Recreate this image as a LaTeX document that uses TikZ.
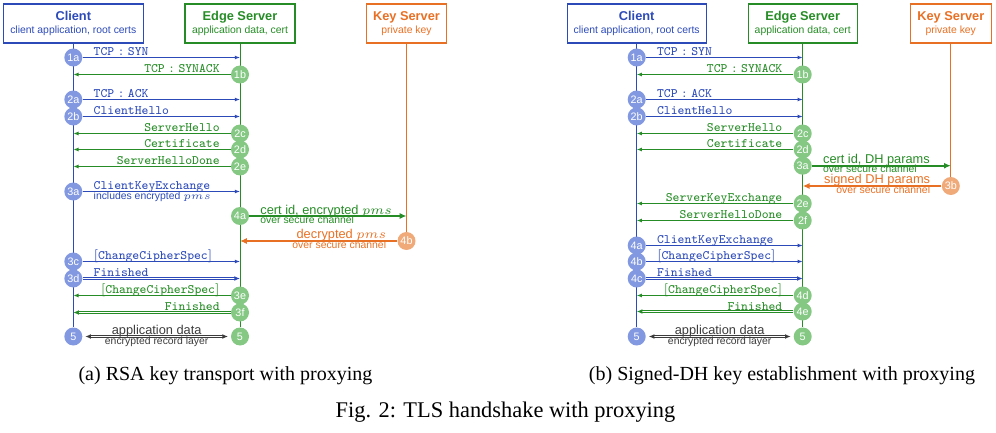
\RequirePackage{fix-cm}
\documentclass[tikz,border=0pt]{standalone}
\usepackage{fontspec}
\setsansfont{Liberation Sans}
\newfontfamily\capfont{Liberation Serif}
\usetikzlibrary{arrows.meta,backgrounds}
\definecolor{cblue}{RGB}{44,74,184}
\definecolor{cbluel}{RGB}{130,152,224}
\definecolor{cgreen}{RGB}{38,140,38}
\definecolor{cgreenl}{RGB}{132,200,132}
\definecolor{corange}{RGB}{232,112,36}
\definecolor{corangel}{RGB}{240,170,122}
\definecolor{cgray}{RGB}{60,60,60}
\newcommand\titlef{\fontsize{6.4}{6.8}\selectfont\bfseries}
\newcommand\tcpmsg[1]{TCP${}:{}$#1}
\tikzset{
  box/.style={draw=#1, line width=0.6pt, minimum height=19.5pt, inner sep=0pt, align=center,
    text=#1, font=\sffamily\fontsize{5.2}{6.8}\selectfont},
  circ/.style={circle, fill=#1, minimum size=9pt, inner sep=0pt, text=white,
    font=\sffamily\fontsize{5.4}{6}\selectfont},
  life/.style={draw=#1, line width=0.5pt},
  msg/.style={draw=#1, line width=0.5pt, -{Latex[length=2.6pt,width=2pt]}},
  fin/.style={draw=#1, line width=0.5pt, double=white, double distance=0.55pt, -{Latex[length=2.8pt,width=2.4pt]}},
  thick msg/.style={draw=#1, line width=1pt, -{Latex[length=3.4pt,width=3pt]}},
  appd/.style={draw=cgray, line width=0.5pt, double=white, double distance=0.55pt,
    {Latex[length=2.8pt,width=2.4pt]}-{Latex[length=2.8pt,width=2.4pt]}, shorten <=1.3pt, shorten >=1.3pt},
  tl/.style={inner sep=0pt, text=#1, font=\fontsize{6.45}{7}\selectfont\ttfamily},
  sl/.style={inner sep=0pt, text=#1, font=\sffamily\fontsize{5.2}{6}\selectfont},
  bl/.style={inner sep=0pt, text=#1, font=\sffamily\fontsize{6.4}{7}\selectfont},
  captext/.style={inner sep=0pt, anchor=base, font=\capfont\fontsize{10}{12}\selectfont},
}
\begin{document}
\begin{tikzpicture}[x=0.5pt,y=-0.5pt]
\useasboundingbox (0,0) rectangle (996,433);
% ================= LEFT PANEL =================
\node[box=cblue, minimum width=70pt] (clL) at (73.3,23.5) {{\titlef Client}\\client application, root certs};
\node[box=cgreen, minimum width=55pt] (edL) at (240,23.5) {{\titlef Edge Server}\\application data, cert};
\node[box=corange, minimum width=40.3pt] (kyL) at (406.5,23.5) {{\titlef Key Server}\\private key};
% circles
\node[circ=cbluel] (L1a) at (73.3,57.5) {1a};
\node[circ=cgreenl] (L1b) at (240,74.5) {1b};
\node[circ=cbluel] (L2a) at (73.3,99.5) {2a};
\node[circ=cbluel] (L2b) at (73.3,116.5) {2b};
\node[circ=cgreenl] (L2c) at (240,133.5) {2c};
\node[circ=cgreenl] (L2d) at (240,149.5) {2d};
\node[circ=cgreenl] (L2e) at (240,166.5) {2e};
\node[circ=cbluel] (L3a) at (73.3,191.5) {3a};
\node[circ=cgreenl] (L4a) at (240,216) {4a};
\node[circ=corangel] (L4b) at (406.5,241) {4b};
\node[circ=cbluel] (L3c) at (73.3,261.5) {3c};
\node[circ=cbluel] (L3d) at (73.3,278.5) {3d};
\node[circ=cgreenl] (L3e) at (240,295.5) {3e};
\node[circ=cgreenl] (L3f) at (240,312.5) {3f};
\node[circ=cbluel] (L5c) at (73.3,336.5) {5};
\node[circ=cgreenl] (L5e) at (240,336.5) {5};
\begin{scope}[on background layer]
\draw[life=cblue] (clL) -- (L5c);
\draw[life=cgreen] (edL) -- (L5e);
\draw[life=corange] (kyL) -- (L4b);
\end{scope}
% messages
\draw[msg=cblue] (L1a) -- (L1a -| edL);
\draw[msg=cgreen] (L1b) -- (L1b -| clL);
\draw[msg=cblue] (L2a) -- (L2a -| edL);
\draw[msg=cblue] (L2b) -- (L2b -| edL);
\draw[msg=cgreen] (L2c) -- (L2c -| clL);
\draw[msg=cgreen] (L2d) -- (L2d -| clL);
\draw[msg=cgreen] (L2e) -- (L2e -| clL);
\draw[msg=cblue] (L3a) -- (L3a -| edL);
\draw[thick msg=cgreen] (L4a) -- (L4a -| kyL);
\draw[thick msg=corange] (L4b) -- (L4b -| edL);
\draw[msg=cblue] (L3c) -- (L3c -| edL);
\draw[fin=cblue] (L3d) -- (L3d -| edL);
\draw[msg=cgreen] (L3e) -- (L3e -| clL);
\draw[fin=cgreen] (L3f) -- (L3f -| clL);
\draw[appd] (L5c) -- (L5e);
% labels
\node[tl=cblue, anchor=base west] (tL1a) at (93.3,55.3) {\tcpmsg{SYN}};
\node[tl=cgreen, anchor=base east] (tL1b) at (220,72.3) {\tcpmsg{SYNACK}};
\node[tl=cblue, anchor=base west] (tL2a) at (93.3,97.3) {\tcpmsg{ACK}};
\node[tl=cblue, anchor=base west] (tL2b) at (93.3,114.3) {ClientHello};
\node[tl=cgreen, anchor=base east] (tL2c) at (220,131.3) {ServerHello};
\node[tl=cgreen, anchor=base east] (tL2d) at (220,147.8) {Certificate};
\node[tl=cgreen, anchor=base east] (tL2e) at (220,164.3) {ServerHelloDone};
\node[tl=cblue, anchor=base west] (tL3a) at (93.3,189.3) {ClientKeyExchange};
\node[sl=cblue, anchor=base west] (sL3a) at (93.3,199) {includes encrypted $pms$};
\node[bl=cgreen, anchor=base west] (tL4a) at (260,214) {cert id, encrypted $pms$};
\node[sl=cgreen, anchor=base west] (sL4a) at (260,223) {over secure channel};
\node[bl=corange, anchor=base east] (tL4b) at (386.5,238.5) {decrypted $pms$};
\node[sl=corange, anchor=base east] (sL4b) at (386.5,248) {over secure channel};
\node[tl=cblue, anchor=base west] (tL3c) at (93.3,259.3) {$[$ChangeCipherSpec$]$};
\node[tl=cblue, anchor=base west] (tL3d) at (93.3,276.3) {Finished};
\node[tl=cgreen, anchor=base east] (tL3e) at (220,293.3) {$[$ChangeCipherSpec$]$};
\node[tl=cgreen, anchor=base east] (tL3f) at (220,310.3) {Finished};
\node[bl=cgray, anchor=base] (tL5) at (156.7,334) {application data};
\node[sl=cgray, anchor=base] (sL5) at (156.7,344) {encrypted record layer};
% ================= RIGHT PANEL =================
\node[box=cblue, minimum width=69.5pt] (clR) at (636.7,23.5) {{\titlef Client}\\client application, root certs};
\node[box=cgreen, minimum width=54.5pt] (edR) at (802.7,23.5) {{\titlef Edge Server}\\application data, cert};
\node[box=corange, minimum width=40.5pt] (kyR) at (950.8,23.5) {{\titlef Key Server}\\private key};
\node[circ=cbluel] (R1a) at (636.7,57.5) {1a};
\node[circ=cgreenl] (R1b) at (802.7,74.5) {1b};
\node[circ=cbluel] (R2a) at (636.7,99.5) {2a};
\node[circ=cbluel] (R2b) at (636.7,116.5) {2b};
\node[circ=cgreenl] (R2c) at (802.7,133.5) {2c};
\node[circ=cgreenl] (R2d) at (802.7,149.5) {2d};
\node[circ=cgreenl] (R3a) at (802.7,165.7) {3a};
\node[circ=corangel] (R3b) at (950.8,186) {3b};
\node[circ=cgreenl] (R2e) at (802.7,203.5) {2e};
\node[circ=cgreenl] (R2f) at (802.7,220.5) {2f};
\node[circ=cbluel] (R4a) at (636.7,245.5) {4a};
\node[circ=cbluel] (R4b) at (636.7,261.5) {4b};
\node[circ=cbluel] (R4c) at (636.7,278.5) {4c};
\node[circ=cgreenl] (R4d) at (802.7,295.5) {4d};
\node[circ=cgreenl] (R4e) at (802.7,311.5) {4e};
\node[circ=cbluel] (R5c) at (636.7,336.5) {5};
\node[circ=cgreenl] (R5e) at (802.7,336.5) {5};
\begin{scope}[on background layer]
\draw[life=cblue] (clR) -- (R5c);
\draw[life=cgreen] (edR) -- (R5e);
\draw[life=corange] (kyR) -- (R3b);
\end{scope}
\draw[msg=cblue] (R1a) -- (R1a -| edR);
\draw[msg=cgreen] (R1b) -- (R1b -| clR);
\draw[msg=cblue] (R2a) -- (R2a -| edR);
\draw[msg=cblue] (R2b) -- (R2b -| edR);
\draw[msg=cgreen] (R2c) -- (R2c -| clR);
\draw[msg=cgreen] (R2d) -- (R2d -| clR);
\draw[thick msg=cgreen] (R3a) -- (R3a -| kyR);
\draw[thick msg=corange] (R3b) -- (R3b -| edR);
\draw[msg=cgreen] (R2e) -- (R2e -| clR);
\draw[msg=cgreen] (R2f) -- (R2f -| clR);
\draw[msg=cblue] (R4a) -- (R4a -| edR);
\draw[msg=cblue] (R4b) -- (R4b -| edR);
\draw[fin=cblue] (R4c) -- (R4c -| edR);
\draw[msg=cgreen] (R4d) -- (R4d -| clR);
\draw[fin=cgreen] (R4e) -- (R4e -| clR);
\draw[appd] (R5c) -- (R5e);
\node[tl=cblue, anchor=base west] (tR1a) at (656.7,55.3) {\tcpmsg{SYN}};
\node[tl=cgreen, anchor=base east] (tR1b) at (782.7,72.3) {\tcpmsg{SYNACK}};
\node[tl=cblue, anchor=base west] (tR2a) at (656.7,97.3) {\tcpmsg{ACK}};
\node[tl=cblue, anchor=base west] (tR2b) at (656.7,114.3) {ClientHello};
\node[tl=cgreen, anchor=base east] (tR2c) at (782.7,131.3) {ServerHello};
\node[tl=cgreen, anchor=base east] (tR2d) at (782.7,147.8) {Certificate};
\node[bl=cgreen, anchor=base west] (tR3a) at (822.7,163.7) {cert id, DH params};
\node[sl=cgreen, anchor=base west] (sR3a) at (822.7,172.7) {over secure channel};
\node[bl=corange, anchor=base east] (tR3b) at (930.5,183.5) {signed DH params};
\node[sl=corange, anchor=base east] (sR3b) at (930.5,193) {over secure channel};
\node[tl=cgreen, anchor=base east] (tR2e) at (782.7,201.6) {ServerKeyExchange};
\node[tl=cgreen, anchor=base east] (tR2f) at (782.7,218.3) {ServerHelloDone};
\node[tl=cblue, anchor=base west] (tR4a) at (656.7,243.6) {ClientKeyExchange};
\node[tl=cblue, anchor=base west] (tR4b) at (656.7,259.6) {$[$ChangeCipherSpec$]$};
\node[tl=cblue, anchor=base west] (tR4c) at (656.7,276.3) {Finished};
\node[tl=cgreen, anchor=base east] (tR4d) at (782.7,293.3) {$[$ChangeCipherSpec$]$};
\node[tl=cgreen, anchor=base east] (tR4e) at (782.7,310) {Finished};
\node[bl=cgray, anchor=base] (tR5) at (719.7,334) {application data};
\node[sl=cgray, anchor=base] (sR5) at (719.7,344) {encrypted record layer};
% ================= CAPTIONS =================
\node[captext] (capa) at (225.5,380) {(a) RSA key transport with proxying};
\node[captext] (capb) at (782,380) {(b) Signed-DH key establishment with proxying};
\node[captext, font=\capfont\fontsize{11.2}{13}\selectfont] (fig) at (505.5,417.7) {Fig. 2: TLS handshake with proxying};
\end{tikzpicture}
\end{document}
